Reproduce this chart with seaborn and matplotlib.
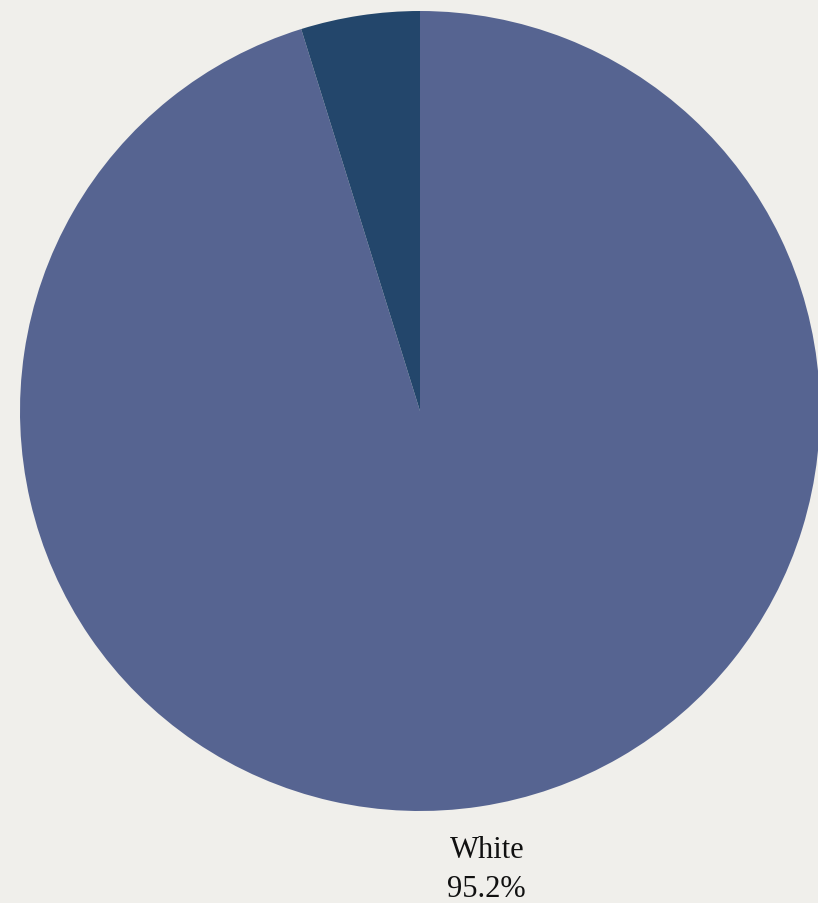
import matplotlib
matplotlib.use("Agg")
import matplotlib.pyplot as plt
import numpy as np
import seaborn as sns

# data
groups = ["White", "Other"]
shares = [95.2, 4.8]
slice_colors = ["#566491", "#23466b"]
shown = ["White"]

sns.set_theme(style="white", rc={"figure.facecolor": "#f0efeb", "axes.facecolor": "#f0efeb"})
plt.rcParams["font.family"] = ["Liberation Serif", "DejaVu Serif"]

fig = plt.figure(figsize=(8.18, 9.04), dpi=100)
ax = fig.add_axes([0, 0, 1, 1])
ax.set_facecolor("#f0efeb")

pal = sns.color_palette(slice_colors)
wedges, _ = ax.pie(shares, colors=pal, startangle=90, counterclock=False,
                   radius=1.0, wedgeprops=dict(linewidth=0))

# labels below, only for the big slice
for w, name, val in zip(wedges, groups, shares):
    if name not in shown:
        continue
    mid = np.deg2rad((w.theta1 + w.theta2) / 2)
    x = 1.11 * np.cos(mid)
    y = 1.11 * np.sin(mid)
    ax.text(x, y, name, ha="center", va="center", fontsize=22, color="#111111")
    ax.text(x, y - 0.097, f"{val:.1f}%", ha="center", va="center", fontsize=22, color="#111111")

ax.set_xlim(-1.05, 0.995)
ax.set_ylim(-1.23, 1.03)
ax.set_aspect("equal")
ax.axis("off")

fig.savefig("out.png", dpi=100, facecolor=fig.get_facecolor())
